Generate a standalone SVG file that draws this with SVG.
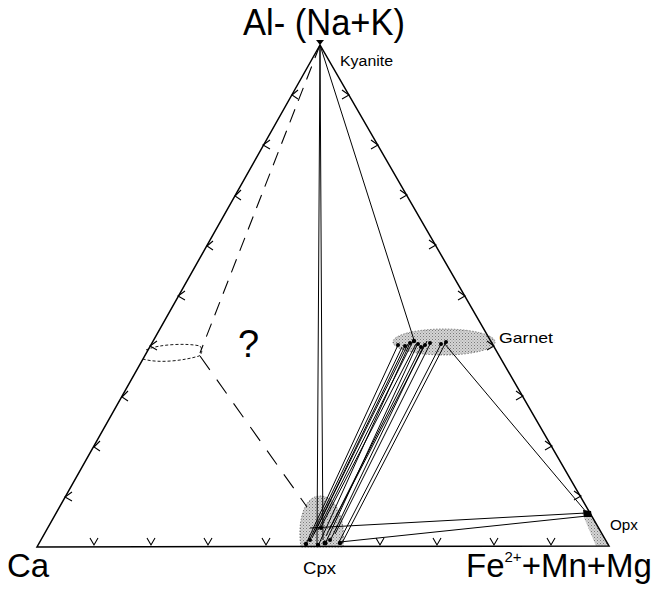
<svg xmlns="http://www.w3.org/2000/svg" width="654" height="589" viewBox="0 0 654 589">
<style>
  .edge{fill:none;stroke:#000;stroke-width:1.5;stroke-linejoin:miter}
  .tick{fill:none;stroke:#000;stroke-width:1.1}
  .tie{fill:none;stroke:#000;stroke-width:1}
  .dash{fill:none;stroke:#000;stroke-width:1.1;stroke-dasharray:14 9}
  .fine{fill:none;stroke:#000;stroke-width:0.9;stroke-dasharray:3 2}
  .lbl{font-family:"Liberation Sans",Arial,sans-serif;fill:#000}
  .stip{fill:url(#dots);stroke:#555;stroke-width:0.7;stroke-dasharray:1.5 1.5}
</style>
<defs>
  <pattern id="dots" width="3" height="3" patternUnits="userSpaceOnUse">
    <rect width="3" height="3" fill="#d4d4d4"/>
    <rect x="0" y="0" width="1" height="1" fill="#7a7a7a"/>
    <rect x="1.5" y="1.5" width="1" height="1" fill="#9a9a9a"/>
  </pattern>
</defs>
<rect width="654" height="589" fill="#fff"/>

<!-- phase fields (drawn first) -->
<g id="node-garnet">
  <ellipse class="stip" cx="444" cy="342" rx="51" ry="13"/>
  <text class="lbl" x="499" y="343" font-size="15" textLength="54" lengthAdjust="spacingAndGlyphs">Garnet</text>
</g>
<g id="node-cpx">
  <path class="stip" d="M301,547 C297,522 304,496 320,496 C337,496 346,522 343,547 Z"/>
  <text class="lbl" x="303" y="574" font-size="16" textLength="33" lengthAdjust="spacingAndGlyphs">Cpx</text>
</g>
<g id="node-opx">
  <polygon points="582,513 589,511 609,546 596,546" fill="url(#dots)" stroke="none"/>
  <text class="lbl" x="610" y="530" font-size="14" textLength="28" lengthAdjust="spacingAndGlyphs">Opx</text>
</g>

<!-- triangle frame and ticks -->
<g id="frame">
  <polygon class="edge" points="320,45 37,547 609,546"/>
  <path class="tick" d="
    M298,90 L292,95 L298,99
    M270,140 L263,145 L270,149
    M241,190 L235,196 L241,200
    M213,241 L207,246 L213,250
    M185,291 L178,296 L185,300
    M157,341 L150,346 L157,350
    M128,391 L122,397 L128,401
    M100,441 L94,447 L100,451
    M72,492 L65,497 L72,501
    M342,90 L349,95 L342,99
    M371,140 L378,145 L371,149
    M400,190 L407,195 L400,199
    M429,240 L436,245 L429,249
    M458,291 L465,296 L458,300
    M487,341 L494,346 L487,350
    M516,391 L523,396 L516,400
    M545,441 L552,446 L545,450
    M574,491 L581,496 L574,500
    M90,538 L94,545 L98,538
    M147,538 L151,545 L155,538
    M204,538 L208,545 L212,538
    M262,538 L266,545 L270,538
    M376,538 L380,545 L384,538
    M433,538 L437,545 L441,538
    M490,538 L494,545 L498,538
    M547,538 L551,545 L555,538"/>
</g>

<!-- connectors -->
<g id="connectors">
  <!-- apex verticals to Cpx -->
  <path class="tie" d="M320,45 L317,545"/>
  <path class="tie" d="M320,45 L322,400 L323,540"/>
  <!-- apex to garnet -->
  <path class="tie" d="M320,45 L414,340"/>
  <!-- garnet to Opx -->
  <path class="tie" d="M444,343 L587,513"/>
  <!-- Cpx to Opx -->
  <path class="tie" d="M310,528 L586,513"/>
  <path class="tie" d="M340,542 L587,516"/>
  <!-- garnet - cpx tie lines -->
  <path class="tie" d="
    M398,345 L306,544
    M402,347 L309,541
    M405,346 L312,538
    M408,344 L314,534
    M410,343 L318,546
    M413,341 L318,530
    M416,344 L321,527
    M418,343 L325,544
    M421,347 L326,536
    M424,345 L330,541
    M427,341 L329,530
    M430,344 L335,534
    M441,344 L338,544
    M446,342 L342,543"/>
  <!-- dashed boundaries -->
  <path class="dash" d="M320,45 L200,353"/>
  <path class="dash" d="M200,356 L307,507" style="stroke-dasharray:17 12"/>
</g>

<!-- endpoint marks -->
<g id="points" fill="#000">
  <circle cx="398" cy="345" r="2"/><circle cx="405" cy="346" r="2"/>
  <circle cx="410" cy="343" r="2"/><circle cx="414" cy="341" r="2.2"/>
  <circle cx="418" cy="344" r="2"/><circle cx="421" cy="347" r="2"/>
  <circle cx="425" cy="345" r="2"/><circle cx="430" cy="343" r="2"/>
  <circle cx="441" cy="344" r="2"/><circle cx="446" cy="342" r="2"/>
  <circle cx="306" cy="544" r="2.2"/><circle cx="310" cy="540" r="2"/>
  <circle cx="318" cy="545" r="2.2"/><circle cx="321" cy="528" r="2"/>
  <circle cx="325" cy="543" r="2.5"/><circle cx="330" cy="540" r="2"/>
  <circle cx="340" cy="543" r="2.2"/>
  <path d="M583,510 L591,511 L592,517 L584,517 Z"/>
  <path d="M316,40 L320,45 L324,40 Z"/>
</g>

<!-- unknown field -->
<g id="node-unknown">
  <path class="fine" d="M146,350 C158,344 188,343 200,346 C203,350 202,354 199,356 C186,360 160,364 143,359"/>
  <text class="lbl" x="238" y="357" font-size="38">?</text>
</g>

<g id="node-apex">
  <text class="lbl" x="243" y="35" font-size="36" textLength="162" lengthAdjust="spacingAndGlyphs">Al- (Na+K)</text>
  <text class="lbl" x="340" y="66" font-size="14" textLength="53" lengthAdjust="spacingAndGlyphs">Kyanite</text>
</g>
<g id="node-ca">
  <text class="lbl" x="7" y="577" font-size="33">Ca</text>
</g>
<g id="node-femnmg">
  <text class="lbl" x="466" y="577" font-size="33">Fe<tspan font-size="15" dy="-15">2+</tspan><tspan dy="15">+Mn+Mg</tspan></text>
</g>
</svg>
